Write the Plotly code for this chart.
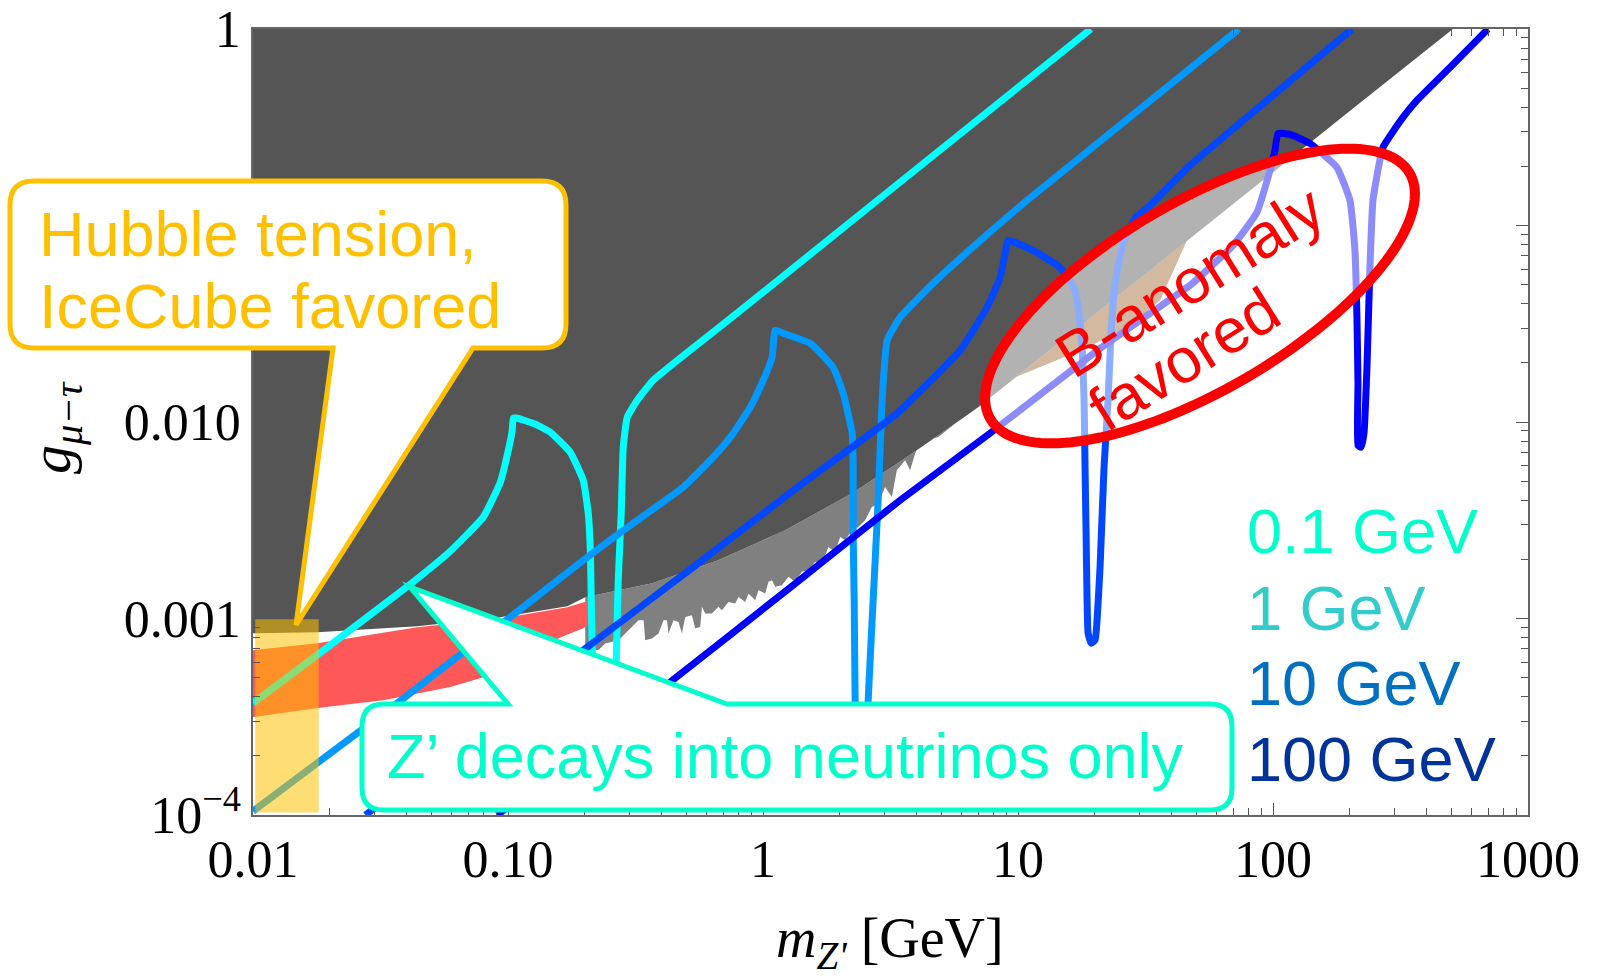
import numpy as np
import plotly.graph_objects as go

# ---------------- data (m_Z' in GeV, g_mu-tau) ----------------
# dark gray excluded region
excl_m = [0.01, 507.6, 225.4, 94.7, 47.3, 20.98, 9.92, 6.98, 5.67, 3.512, 2.237, 1.222,
          0.6674, 0.3678, 0.2009, 0.1709, 0.0933, 0.0441, 0.01788, 0.01]
excl_g = [1.0, 1.0, 0.4329, 0.1757, 0.0860, 0.0370, 0.01709, 0.01188, 0.00982, 0.00639,
          0.00434, 0.002814, 0.00198, 0.001513, 0.001284, 0.001156, 0.001016, 0.000914,
          0.000852, 0.000842]

# lighter gray (jagged) excluded region: jagged lower edge, then upper edge back
mid_m = [0.2009, 0.2265, 0.2406, 0.2713, 0.2883, 0.3062, 0.3250, 0.3401, 0.3453, 0.3669,
         0.3893, 0.4074, 0.4201, 0.4261, 0.4458, 0.4664, 0.4810, 0.4955, 0.5263, 0.5422,
         0.5673, 0.5761, 0.5935, 0.6301, 0.6691, 0.6901, 0.7323, 0.7780, 0.8015, 0.8516,
         0.8772, 0.9320, 0.9601, 1.020, 1.051, 1.084, 1.116, 1.186, 1.259, 1.337, 1.421,
         1.508, 1.602, 1.702, 1.806, 1.919, 2.007, 2.100, 2.231, 2.367, 2.515, 2.673,
         2.836, 3.013, 3.201, 3.349, 3.609, 3.776, 3.951, 4.070, 4.454, 4.874, 5.668,
         3.512, 2.237, 1.222, 0.6674, 0.3678, 0.2009]
mid_g = [6.91e-4, 6.91e-4, 7.47e-4, 7.76e-4, 8.39e-4, 9.07e-4, 9.81e-4, 9.81e-4, 7.76e-4,
         7.91e-4, 8.39e-4, 9.81e-4, 9.81e-4, 8.39e-4, 9.81e-4, 9.61e-4, 8.39e-4, 1.019e-3,
         1.040e-3, 8.90e-4, 9.07e-4, 1.146e-3, 1.061e-3, 1.061e-3, 1.146e-3, 1.103e-3,
         1.215e-3, 1.193e-3, 1.288e-3, 1.215e-3, 1.341e-3, 1.240e-3, 1.394e-3, 1.341e-3,
         1.536e-3, 1.567e-3, 1.449e-3, 1.478e-3, 1.629e-3, 1.536e-3, 1.727e-3, 1.762e-3,
         1.942e-3, 1.905e-3, 2.314e-3, 2.183e-3, 2.602e-3, 2.503e-3, 2.814e-3, 2.924e-3,
         3.164e-3, 3.698e-3, 3.849e-3, 4.673e-3, 4.156e-3, 5.68e-3, 6.39e-3, 5.68e-3,
         6.91e-3, 7.46e-3, 8.07e-3, 8.39e-3, 9.82e-3, 6.39e-3, 4.34e-3, 2.814e-3, 1.98e-3,
         1.513e-3, 1.284e-3]

# red band
red_m = [0.01, 0.0179, 0.0441, 0.0933, 0.171, 0.2102, 0.2102, 0.1973, 0.16, 0.134, 0.080,
         0.0594, 0.0324, 0.0179, 0.01]
red_g = [6.9e-4, 7.48e-4, 9.03e-4, 1.0e-3, 1.14e-3, 1.24e-3, 9.5e-4, 8.93e-4, 8.0e-4, 6.9e-4,
         5.03e-4, 4.48e-4, 3.84e-4, 3.5e-4, 3.15e-4]

# tan (B-anomaly) strip
tan_m = [9.92, 20.98, 47.3, 46.0, 36.1, 27.5, 18.83, 14.23, 9.74]
tan_g = [0.01709, 0.0370, 0.0860, 0.0840, 0.0416, 0.0310, 0.0240, 0.0206, 0.01689]

# Hubble / IceCube favored box
hub_m = [0.0102, 0.0181, 0.0181, 0.0102]
hub_g = [1.03e-4, 1.03e-4, 9.9e-4, 9.9e-4]

# contours for m_chi = 0.1, 1, 10, 100 GeV
c01_m = [0.01, 0.0201, 0.0414, 0.0594, 0.0800, 0.0933, 0.1003, 0.1039, 0.1049, 0.1088, 0.128,
         0.1465, 0.1754, 0.1973, 0.2064, 0.2102, 0.2121, 0.2140, 0.2180, 0.2563, 0.2658,
         0.2706, 0.2780, 0.2831, 0.2935, 0.3212, 0.3712, 0.764, 3.04, 19.3]
c01_g = [3.71e-4, 7.32e-4, 1.495e-3, 2.20e-3, 3.28e-3, 4.94e-3, 7.18e-3, 9.08e-3, 1.045e-2,
         1.045e-2, 9.74e-3, 8.87e-3, 7.02e-3, 5.05e-3, 3.43e-3, 2.31e-3, 1.24e-3, 6.90e-4,
         1.34e-4, 1.34e-4, 6.14e-4, 1.567e-3, 3.43e-3, 7.44e-3, 1.057e-2, 1.29e-2, 1.631e-2,
         3.45e-2, 0.1457, 1.0]

c1_m = [0.01, 0.0368, 0.0668, 0.1021, 0.1973, 0.2831, 0.4866, 0.6378, 0.764, 0.891, 1.002,
        1.086, 1.116, 1.200, 1.531, 1.884, 2.063, 2.237, 2.257, 2.257, 2.278, 2.298, 2.340,
        2.538, 2.585, 2.704, 2.829, 2.932, 3.068, 3.45, 4.65, 6.91, 10.85, 73.5]
c1_g = [1.047e-4, 3.71e-4, 6.74e-4, 1.016e-3, 1.98e-3, 2.81e-3, 4.66e-3, 6.62e-3, 8.76e-3,
        1.188e-2, 1.631e-2, 2.135e-2, 2.93e-2, 2.83e-2, 2.515e-2, 1.898e-2, 1.40e-2, 8.76e-3,
        5.89e-3, 2.72e-3, 1.24e-3, 3.84e-4, 1.34e-4, 1.34e-4, 3.84e-4, 1.24e-3, 4.0e-3,
        1.29e-2, 2.60e-2, 3.41e-2, 5.08e-2, 8.11e-2, 0.1342, 1.0]

c10_m = [0.0276, 0.2046, 0.5325, 1.349, 3.357, 5.93, 7.56, 8.51, 8.90, 9.15, 11.46, 14.62,
         16.74, 17.68, 18.16, 18.32, 18.49, 18.66, 18.83, 19.35, 20.06, 20.42, 20.98, 21.75,
         22.55, 23.17, 24.02, 25.82, 28.77, 32.95, 47.3, 94.7, 204.0]
c10_g = [1.0e-4, 7.15e-4, 1.825e-3, 4.60e-3, 1.108e-2, 2.317e-2, 3.83e-2, 5.45e-2, 7.21e-2,
         8.40e-2, 7.47e-2, 6.12e-2, 4.68e-2, 2.83e-2, 1.29e-2, 5.89e-3, 2.72e-3, 1.24e-3,
         8.42e-4, 7.49e-4, 7.76e-4, 9.81e-4, 1.825e-3, 5.89e-3, 1.29e-2, 2.83e-2, 5.08e-2,
         8.11e-2, 0.1087, 0.1266, 0.2022, 0.4329, 1.0]

c100_m = [0.0908, 0.4328, 1.313, 3.45, 7.77, 20.98, 32.95, 47.3, 69.7, 86.5, 97.3, 101.8,
          104.6, 116.6, 139.6, 178.1, 200.4, 209.6, 213.4, 215.4, 215.4, 221.3, 227.4, 233.6,
          240.0, 246.6, 269.9, 323.3, 366.7, 494.2, 696.5]
c100_g = [1.0e-4, 4.75e-4, 1.478e-3, 4.0e-3, 8.76e-3, 2.37e-2, 3.57e-2, 4.96e-2, 7.92e-2,
          0.1166, 0.1907, 0.2410, 0.2941, 0.2906, 0.2617, 0.1975, 0.1342, 7.47e-2, 3.41e-2,
          1.574e-2, 7.61e-3, 7.44e-3, 8.76e-3, 1.898e-2, 6.12e-2, 0.1342, 0.2496, 0.3548,
          0.4329, 0.637, 1.0]

x_ticks = [0.01, 0.1, 1, 10, 100, 1000]
x_ticktext = ["0.01", "0.10", "1", "10", "100", "1000"]
y_ticks = [1e-4, 1e-3, 1e-2, 1e-1, 1]
y_ticktext = ["10<sup>\u22124</sup>", "0.001", "0.010", "", "1"]  # 0.1 label hidden by callout
x_minor = [k * 10.0 ** d for d in range(-2, 3) for k in range(2, 10)]
y_minor = [k * 10.0 ** d for d in range(-4, 0) for k in range(2, 10)]

legend_labels = ["0.1 GeV", "1 GeV", "10 GeV", "100 GeV"]
legend_colors = ["#00FFCC", "#33CCCC", "#0070C0", "#003399"]

# ---------------- layout geometry ----------------
W, H = 1597, 978
PL, PR, PT, PB = 253, 1528, 29, 815


def px(x):
    return (x - PL) / (PR - PL)


def py(y):
    return (PB - y) / (PB - PT)


def P(x, y):
    return f"{px(x):.5f},{py(y):.5f}"


fig = go.Figure()


def region(m, g, color):
    fig.add_trace(go.Scatter(x=m, y=g, mode="lines", fill="toself", fillcolor=color,
                             line=dict(width=0, color=color), hoverinfo="skip",
                             showlegend=False))


region(mid_m, mid_g, "#808080")
region(tan_m, tan_g, "#9B642C")
region(excl_m, excl_g, "#555555")
region(red_m, red_g, "#FF5858")

for m, g, col in [(c01_m, c01_g, "#00FFFF"), (c1_m, c1_g, "#0099FF"),
                  (c10_m, c10_g, "#0047FF"), (c100_m, c100_g, "#0000FF")]:
    fig.add_trace(go.Scatter(x=m, y=g, mode="lines",
                             line=dict(color=col, width=7, shape="spline", smoothing=0.4),
                             hoverinfo="skip", showlegend=False))

region(hub_m, hub_g, "rgba(255,192,0,0.54)")


# ---------------- shapes (callouts and ellipse) ----------------
def ellipse_path(cx, cy, a, b, th, n=160):
    t = np.linspace(0, 2 * np.pi, n, endpoint=False)
    c, s = np.cos(np.radians(th)), np.sin(np.radians(th))
    xs = cx + a * np.cos(t) * c - b * np.sin(t) * s
    ys = cy - (a * np.cos(t) * s + b * np.sin(t) * c)
    return "M" + "L".join(P(x, y) for x, y in zip(xs, ys)) + "Z"


def rr(x0, y0, x1, y1, r, bottom_ptr=None, top_ptr=None):
    s = f"M{P(x0 + r, y0)}"
    if top_ptr:
        a, tip, b = top_ptr
        s += f"L{P(a, y0)}L{P(*tip)}L{P(b, y0)}"
    s += f"L{P(x1 - r, y0)}Q{P(x1, y0)} {P(x1, y0 + r)}"
    s += f"L{P(x1, y1 - r)}Q{P(x1, y1)} {P(x1 - r, y1)}"
    if bottom_ptr:
        b, tip, a = bottom_ptr
        s += f"L{P(b, y1)}L{P(*tip)}L{P(a, y1)}"
    s += f"L{P(x0 + r, y1)}Q{P(x0, y1)} {P(x0, y1 - r)}"
    s += f"L{P(x0, y0 + r)}Q{P(x0, y0)} {P(x0 + r, y0)}Z"
    return s


shapes = [
    dict(type="path", xref="paper", yref="paper", layer="above",
         path=ellipse_path(1200, 296, 243, 94, 30.4),
         line=dict(color="#FF0000", width=10), fillcolor="rgba(255,255,255,0.55)"),
    dict(type="path", xref="paper", yref="paper", layer="above",
         path=rr(10, 181, 566, 348, 24, bottom_ptr=(473, (296, 625), 333)),
         line=dict(color="#FFC000", width=5), fillcolor="white"),
    dict(type="path", xref="paper", yref="paper", layer="above",
         path=rr(362, 704, 1232, 810, 22, top_ptr=(508, (410, 587), 727)),
         line=dict(color="#00FFCC", width=5), fillcolor="white"),
]

SANS = "Liberation Sans, Arial, sans-serif"
SERIF = "Liberation Serif, Times New Roman, serif"


def ann(text, x, y, color, size=63, xanchor="left", yanchor="middle", angle=0, family=SANS):
    return dict(text=text, x=px(x), y=py(y), xref="paper", yref="paper", showarrow=False,
                xanchor=xanchor, yanchor=yanchor, textangle=angle, borderpad=0,
                font=dict(family=family, size=size, color=color))


annotations = [
    ann("Hubble tension,", 38, 234, "#FFC000"),
    ann("IceCube favored", 38, 306, "#FFC000"),
    ann("Z\u2019 decays into neutrinos only", 386, 756, "#00FFCC"),
    ann("B-anomaly", 1190, 281, "#FF0000", size=63, xanchor="center", angle=-32),
    ann("favored", 1184, 359, "#FF0000", size=63, xanchor="center", angle=-32),
    ann("<i>m</i><sub><i>Z'</i></sub> [GeV]", 890, 906, "black", size=56,
        xanchor="center", yanchor="top", family=SERIF),
    ann("<i>g</i><sub><i>\u03bc\u2212\u03c4</i></sub>", 54, 428, "black", size=58,
        xanchor="center", angle=-90, family=SERIF),
]
for lab, col, yy in zip(legend_labels, legend_colors, [531, 608, 683, 759]):
    annotations.append(ann(lab, 1246, yy, col))

axis_common = dict(
    type="log", ticks="inside", ticklen=12, tickwidth=1.2, tickcolor="#555555",
    showline=True, linecolor="#666666", linewidth=1.5, mirror="ticks",
    showgrid=False, zeroline=False, automargin=False,
    tickfont=dict(family=SERIF, size=52, color="black"),
)

fig.update_layout(
    template="none",
    width=W, height=H, autosize=False,
    margin=dict(l=PL, r=W - PR, t=PT, b=H - PB, pad=0),
    paper_bgcolor="white", plot_bgcolor="white", showlegend=False,
    xaxis=dict(axis_common, range=[-2, 3], tickmode="array", tickvals=x_ticks,
               ticktext=x_ticktext, ticklabelstandoff=-2,
               minor=dict(tickmode="array", tickvals=x_minor, ticks="inside", ticklen=7,
                          tickcolor="#555555", showgrid=False)),
    yaxis=dict(axis_common, range=[-4, 0], tickmode="array", tickvals=y_ticks,
               ticktext=y_ticktext, ticklabelstandoff=0,
               minor=dict(tickmode="array", tickvals=y_minor, ticks="inside", ticklen=7,
                          tickcolor="#555555", showgrid=False)),
    shapes=shapes,
    annotations=annotations,
)

fig.write_html("out.html", config={"displayModeBar": False},
               post_script="document.body.style.margin='0px';")
